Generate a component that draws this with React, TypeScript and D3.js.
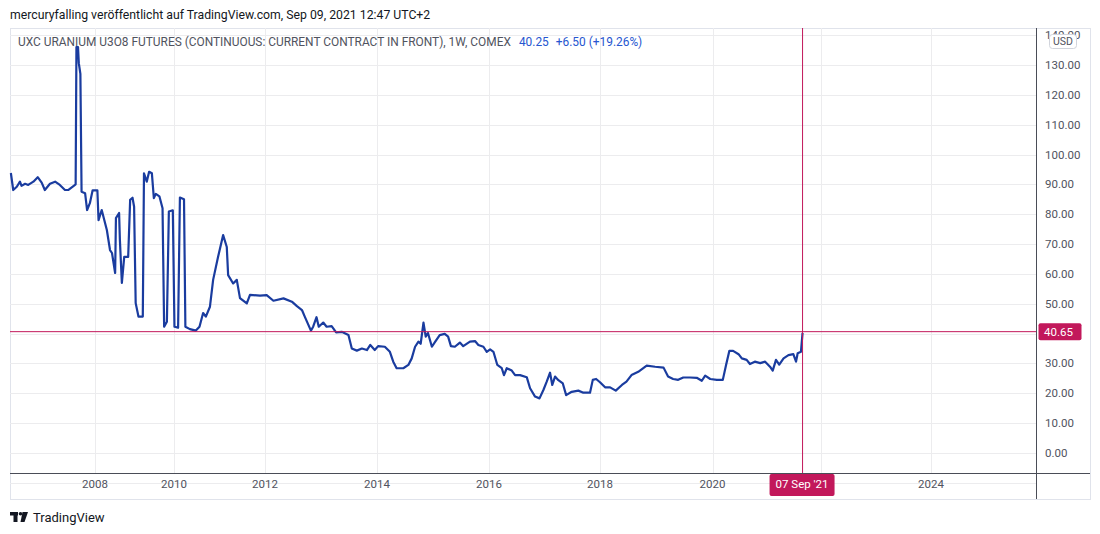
import React from 'react';
import * as d3 from 'd3';

// chart frame (page pixels, svg is pinned to the page origin)
const WIDTH = 1100;
const HEIGHT = 534;
const plot = { left: 10, right: 1036.5, top: 28, bottom: 473 };
const frame = { right: 1090, bottom: 499 };

// time axis is bar-index based, so years are not evenly spaced
const yearTicks = [2008, 2010, 2012, 2014, 2016, 2018, 2020, 2022, 2024];
const yearTickX = [95, 174, 265, 377, 489, 600, 712.5, 821, 931];
const yearLabels = ['2008', '2010', '2012', '2014', '2016', '2018', '2020', '', '2024'];

const priceTicks = [0, 10, 20, 30, 40, 50, 60, 70, 80, 90, 100, 110, 120, 130, 140];

// weekly closes (decimal years)
const weeks = [
    2005.87, 2005.93, 2006.02, 2006.10, 2006.14, 2006.23, 2006.31, 2006.44, 2006.55, 2006.65,
    2006.73, 2006.86, 2006.99, 2007.11, 2007.24, 2007.32, 2007.47, 2007.51, 2007.53, 2007.57,
    2007.59, 2007.63, 2007.66, 2007.75, 2007.80, 2007.87, 2007.94, 2008.06, 2008.09, 2008.17,
    2008.30, 2008.38, 2008.43, 2008.51, 2008.53, 2008.61, 2008.63, 2008.68, 2008.74, 2008.84,
    2008.89, 2008.95, 2008.99, 2009.03, 2009.10, 2009.21, 2009.24, 2009.31, 2009.37, 2009.44,
    2009.49, 2009.54, 2009.63, 2009.71, 2009.75, 2009.82, 2009.87, 2009.97, 2010.01, 2010.09,
    2010.13, 2010.22, 2010.25, 2010.35, 2010.48, 2010.56, 2010.64, 2010.70, 2010.79, 2010.86,
    2010.97, 2011.08, 2011.16, 2011.19, 2011.30, 2011.38, 2011.45, 2011.60, 2011.67, 2011.89,
    2012.03, 2012.15, 2012.33, 2012.48, 2012.57, 2012.66, 2012.71, 2012.82, 2012.86, 2012.92,
    2012.96, 2013.04, 2013.10, 2013.19, 2013.27, 2013.37, 2013.49, 2013.55, 2013.64, 2013.73,
    2013.82, 2013.88, 2013.96, 2014.02, 2014.14, 2014.23, 2014.29, 2014.35, 2014.47, 2014.56,
    2014.62, 2014.68, 2014.74, 2014.78, 2014.83, 2014.87, 2014.91, 2014.98, 2015.04, 2015.12,
    2015.21, 2015.27, 2015.32, 2015.39, 2015.48, 2015.54, 2015.66, 2015.75, 2015.81, 2015.90,
    2015.96, 2016.02, 2016.08, 2016.15, 2016.23, 2016.27, 2016.32, 2016.41, 2016.47, 2016.56,
    2016.68, 2016.74, 2016.83, 2016.91, 2016.98, 2017.04, 2017.10, 2017.14, 2017.19, 2017.25,
    2017.33, 2017.39, 2017.49, 2017.61, 2017.70, 2017.82, 2017.87, 2017.93, 2018.00, 2018.09,
    2018.18, 2018.28, 2018.39, 2018.47, 2018.56, 2018.68, 2018.83, 2018.98, 2019.13, 2019.21,
    2019.30, 2019.39, 2019.48, 2019.60, 2019.72, 2019.81, 2019.87, 2019.96, 2020.08, 2020.19,
    2020.25, 2020.31, 2020.38, 2020.48, 2020.54, 2020.63, 2020.69, 2020.78, 2020.88, 2020.97,
    2021.06, 2021.11, 2021.17, 2021.23, 2021.31, 2021.40, 2021.49, 2021.54, 2021.57, 2021.63,
    2021.66,
];

const closes = [
    93.8, 88.1, 89.2, 90.9, 89.5, 90.2, 89.8, 90.9, 92.4, 90.6,
    88.1, 90.2, 90.9, 89.8, 88.1, 88.1, 89.6, 90, 136, 136,
    130.6, 127, 87.5, 87, 81.4, 83.7, 88, 88, 78, 81.4,
    74.7, 68, 67, 60.3, 78.7, 80.4, 71.4, 57, 65.7, 65.7,
    84.8, 85.5, 82.5, 50.2, 45.7, 45.7, 93.7, 90.9, 94.2, 93.7,
    85.4, 86.8, 86, 82, 42.3, 44, 80.9, 81.3, 42.3, 42,
    85.6, 85, 42.3, 41.5, 41, 42.3, 46.9, 45.7, 49, 58,
    65.8, 73, 69, 59.6, 56.8, 58, 51.9, 50.1, 53, 52.7,
    52.9, 51, 51.8, 50.7, 49.2, 47.9, 45.7, 41, 42.3, 45.5,
    42.3, 43.7, 42.3, 42.5, 40.4, 40.6, 39.5, 35, 34.3, 35,
    34.5, 36.2, 34.5, 35.8, 35.6, 33.9, 30.6, 28.4, 28.4, 29.5,
    31.7, 35.6, 37.3, 36.6, 43.7, 39, 40.2, 35.6, 37.3, 39.5,
    39.9, 39, 35.8, 35.6, 37, 35.8, 37.3, 37.5, 36.2, 35.6,
    33.9, 34.7, 33.9, 29.5, 28.4, 26.1, 28.4, 27.6, 26.1, 26.1,
    25.4, 21.7, 18.9, 18.3, 21.1, 23.9, 26.9, 22.8, 25.6, 24.4,
    23.3, 19.4, 20.5, 20.9, 20.2, 20.2, 24.5, 24.8, 23.7, 22,
    22, 20.9, 22.8, 23.9, 26.1, 27.2, 29.3, 28.9, 28.6, 25.6,
    24.8, 24.5, 25.3, 25.3, 25.2, 24.2, 25.9, 24.8, 24.5, 24.5,
    29.5, 34.2, 34.2, 33.1, 31.7, 31.2, 29.8, 30.6, 30.1, 30.6,
    28.9, 27.6, 31.2, 29.6, 31.7, 32.8, 33.1, 30.6, 33.4, 33.9,
    40.25,
];

const headerText = 'mercuryfalling veröffentlicht auf TradingView.com, Sep 09, 2021 12:47 UTC+2';
const seriesTitle = 'UXC URANIUM U3O8 FUTURES (CONTINUOUS: CURRENT CONTRACT IN FRONT), 1W, COMEX';
const lastClose = '40.25';
const lastChange = '+6.50';
const lastChangePct = '(+19.26%)';
const crosshairPrice = 40.65;
const crosshairDate = "07 Sep '21";

const FONT = 'Roboto, "Noto Sans", sans-serif';
const GRID = '#ececee';
const AXIS = '#4a4d57';
const TEXT = '#50535e';
const LINE = '#1a3c9f';
const CROSS = '#c2185b';

const App: React.FC = () => {
    const x = d3.scaleLinear().domain(yearTicks).range(yearTickX);
    const y = d3.scaleLinear().domain([0, 140]).range([453, 35.1]);

    const line = d3.line<number>()
        .x((_, i) => x(weeks[i]))
        .y(d => y(d));

    const crossX = x(weeks[weeks.length - 1]);
    const crossY = y(crosshairPrice);

    return (
        <svg
            width={WIDTH}
            height={HEIGHT}
            style={{ position: 'absolute', left: 0, top: 0, background: '#fff' }}
            fontFamily={FONT}
        >
            <text x={10} y={19} fontSize={12.25} fill="#131722">{headerText}</text>

            {/* outer frame */}
            <rect x={plot.left + 0.5} y={plot.top + 0.5} width={frame.right - plot.left} height={frame.bottom - plot.top}
                  fill="none" stroke="#e0e3eb" />

            {/* grid */}
            {priceTicks.map(t => (
                <line key={'h' + t} x1={plot.left} x2={plot.right} y1={Math.round(y(t)) + 0.5} y2={Math.round(y(t)) + 0.5}
                      stroke={GRID} />
            ))}
            <line x1={plot.left} x2={plot.right} y1={Math.round(y(-10)) + 0.5} y2={Math.round(y(-10)) + 0.5} stroke={GRID} />
            {yearTicks.map(t => (
                <line key={'v' + t} x1={Math.round(x(t)) + 0.5} x2={Math.round(x(t)) + 0.5} y1={plot.top} y2={plot.bottom}
                      stroke={GRID} />
            ))}

            {/* legend */}
            <text x={18} y={46} fontSize={11.9}>
                <tspan fill={TEXT}>{seriesTitle}</tspan>
                <tspan fill="#2656d0" dx={8}>{lastClose}</tspan>
                <tspan fill="#2656d0" dx={7}>{lastChange}</tspan>
                <tspan fill="#2656d0" dx={3}>{lastChangePct}</tspan>
            </text>

            {/* price line */}
            <path d={line(closes) ?? ''} fill="none" stroke={LINE} strokeWidth={2.2} strokeLinejoin="round" />

            {/* crosshair */}
            <line x1={crossX} x2={crossX} y1={plot.top} y2={plot.bottom} stroke={CROSS} />
            <line x1={plot.left} x2={plot.right} y1={crossY} y2={crossY} stroke={CROSS} />

            {/* axes */}
            <line x1={plot.left} x2={frame.right} y1={plot.bottom + 0.5} y2={plot.bottom + 0.5} stroke={AXIS} />
            <line x1={plot.right} x2={plot.right} y1={plot.top} y2={frame.bottom} stroke={AXIS} />

            {priceTicks.map(t => (
                <text key={'pl' + t} x={1045} y={y(t) + 4} fontSize={11.5} fill={TEXT}>{t.toFixed(2)}</text>
            ))}
            {yearTicks.map((t, i) => (
                <text key={'yl' + t} x={x(t)} y={488} fontSize={11.5} fill={TEXT} textAnchor="middle">{yearLabels[i]}</text>
            ))}

            {/* USD badge */}
            <rect x={1049.5} y={34.5} width={27} height={14} rx={3} fill="#fff" stroke="#d1d4dc" />
            <text x={1063} y={45} fontSize={10.5} fill={TEXT} textAnchor="middle">USD</text>

            {/* crosshair labels */}
            <rect x={plot.right + 2} y={crossY - 8.5} width={43} height={17} rx={2} fill={CROSS} />
            <text x={1058.5} y={crossY + 4} fontSize={11.5} fill="#fff" textAnchor="middle">{crosshairPrice.toFixed(2)}</text>
            <rect x={crossX - 33} y={plot.bottom + 1} width={65} height={22} rx={2} fill={CROSS} />
            <text x={crossX - 0.5} y={488} fontSize={11.5} fill="#fff" textAnchor="middle">{crosshairDate}</text>

            {/* TradingView mark */}
            <g fill="#131722">
                <rect x={10} y={512} width={8} height={3.5} />
                <rect x={13.5} y={512} width={4} height={10} />
                <circle cx={20.5} cy={513.8} r={1.8} />
                <polygon points="22.5,512 28,512 24.5,522 20.5,522" />
            </g>
            <text x={33} y={522} fontSize={13} fill="#131722">TradingView</text>
        </svg>
    );
};

export default App;
